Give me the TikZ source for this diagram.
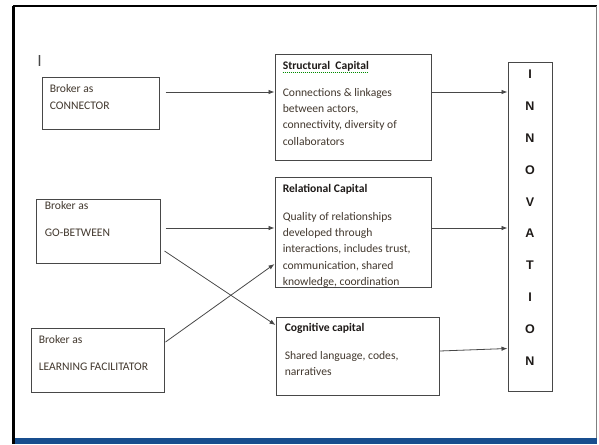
\documentclass[tikz,border=0pt]{standalone}
\usepackage{fontspec}
\setmainfont{Carlito}
\newfontfamily\arialfont{Liberation Sans}
\usetikzlibrary{arrows.meta,positioning}
\definecolor{Cline}{RGB}{72,72,72}
\definecolor{Ctext}{RGB}{66,56,46}
\definecolor{Ctitle}{RGB}{30,26,24}
\definecolor{Cband}{RGB}{24,78,142}
\newcommand{\toprule}{\rule{0pt}{7pt}}
\tikzset{
    bbox/.style={
        rectangle, draw=Cline, line width=0.75pt, fill=white, inner sep=0pt
    },
    btext/.style={
        anchor=north west, align=left, inner sep=0pt, text=Ctext,
        font=\fontsize{8.7}{12.2}\selectfont
    },
    barr/.style={-{Latex[length=4.5pt, width=3.4pt]}, line width=0.6pt, Cline},
}

\begin{document}
\begin{tikzpicture}[x=0.75pt, y=-0.75pt]

    \useasboundingbox (0,0) rectangle (599,444);

    % -- slide frame ------------------------------------------
    \fill [Cband] (15,438) rectangle (597,444);
    \draw [black, line width=1.5pt] (13,6) -- (597,6);
    \draw [black, line width=2pt] (13.5,6) -- (13.5,444);
    \draw [Cline!70, line width=0.75pt] (596.5,6) -- (596.5,438);

    \node [inner sep=0pt, text=Cline, font=\arialfont\fontsize{12}{12}\selectfont]
        (cursor) at (39.5,61) {I};

    % -- brokers (left column) --------------------------------
    \node [bbox, minimum width=87.75pt, minimum height=39pt]
        (conn) at (100.5,103) {};
    \node [btext] (conntxt) at ([xshift=6pt, yshift=-4.6pt]conn.north west)
        {\toprule Broker as\\[0.9pt]CONNECTOR};

    \node [bbox, minimum width=93pt, minimum height=48pt]
        (gobt) at (98,231) {};
    \node [btext] (gobttxt) at ([xshift=6.75pt, yshift=-0.9pt]gobt.north west)
        {\toprule Broker as\\[8.4pt]GO-BETWEEN};

    \node [bbox, minimum width=99.75pt, minimum height=48pt]
        (learn) at (97.5,360) {};
    \node [btext] (learntxt) at ([xshift=6pt, yshift=-4.6pt]learn.north west)
        {\toprule Broker as\\[8.4pt]LEARNING FACILITATOR};

    % -- capitals (middle column) -----------------------------
    \node [bbox, minimum width=117pt, minimum height=79.5pt]
        (struct) at (353,107) {};
    \node [btext] (structtxt) at ([xshift=6pt, yshift=-5pt]struct.north west)
        {\toprule\textcolor{Ctitle}{\textbf{Structural\ \ Capital}}\\[7.7pt]
         Connections \& linkages\\between actors,\\
         connectivity, diversity of\\collaborators};
    \draw [green!55!black, densely dotted, line width=0.5pt]
        ([xshift=6pt, yshift=-14pt]struct.north west) -- ++(85,0);

    \node [bbox, minimum width=117pt, minimum height=82.5pt]
        (rel) at (353,232) {};
    \node [btext] (reltxt) at ([xshift=6pt, yshift=-5pt]rel.north west)
        {\toprule\textcolor{Ctitle}{\textbf{Relational Capital}}\\[8.4pt]
         Quality of relationships\\developed through\\
         interactions, includes trust,\\communication, shared\\
         knowledge, coordination};

    \node [bbox, minimum width=122.25pt, minimum height=58.5pt]
        (cog) at (357.5,356) {};
    \node [btext] (cogtxt) at ([xshift=6.75pt, yshift=-4.25pt]cog.north west)
        {\toprule\textcolor{Ctitle}{\textbf{Cognitive capital}}\\[8.4pt]
         Shared language, codes,\\narratives};

    % -- innovation column ------------------------------------
    \node [bbox, minimum width=33pt, minimum height=246.75pt]
        (innov) at (530,226.5) {};
    \node [anchor=north, align=center, inner sep=0pt, text=Ctitle,
           font=\arialfont\bfseries\fontsize{9.4}{23.85}\selectfont]
        (innovtxt) at ([yshift=-4.8pt]innov.north)
        {\rule{0pt}{8pt}I\\N\\N\\O\\V\\A\\T\\I\\O\\N};

    % -- arrows -----------------------------------------------
    \draw [barr] ([xshift=4.5pt, yshift=8.25pt]conn.east)
        -- ([yshift=8.25pt]conn.east -| struct.west);
    \draw [barr] ([yshift=11.25pt]struct.east)
        -- ([yshift=11.25pt]struct.east -| innov.west);
    \draw [barr] ([xshift=3.75pt, yshift=2.25pt]gobt.east)
        -- ([yshift=2.25pt]gobt.east -| rel.west);
    \draw [barr] ([yshift=3pt]rel.east)
        -- ([yshift=3pt]rel.east -| innov.west);
    \draw [barr] ([xshift=3pt, yshift=-15pt]gobt.east)
        -- ([yshift=23.25pt]cog.west);
    \draw [barr] ([xshift=0.75pt, yshift=13.5pt]learn.east)
        -- ([yshift=-24pt]rel.west);
    \draw [barr] ([yshift=3.75pt]cog.east)
        -- ([yshift=-91.5pt]innov.west);

\end{tikzpicture}
\end{document}
